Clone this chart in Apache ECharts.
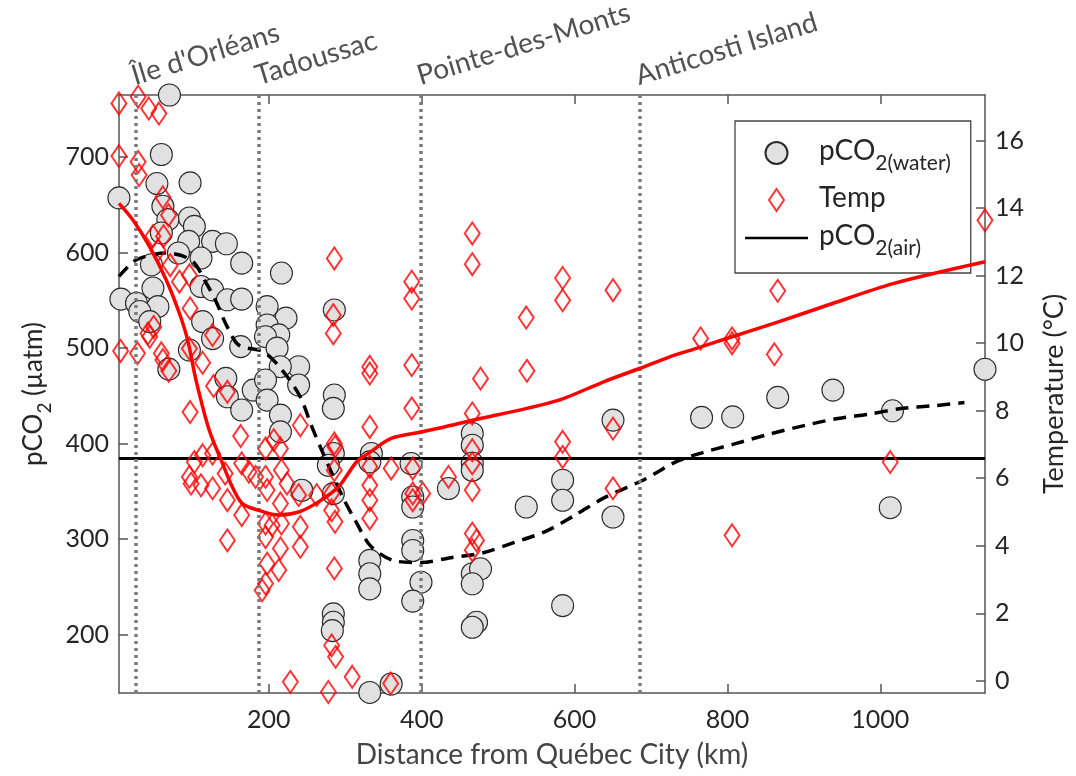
<!DOCTYPE html>
<html>
<head>
<meta charset="utf-8">
<script src="https://cdn.jsdelivr.net/npm/echarts@6/dist/echarts.min.js"></script>
<style>
html,body{margin:0;padding:0;background:#fff;}
#chart{width:1076px;height:776px;}
</style>
</head>
<body>
<div id="chart"></div>
<script>
// ---- axis ranges & ticks ----
const X_MIN = 4, X_MAX = 1137;
const P_MIN = 139, P_MAX = 765;
const T_MIN = -0.36, T_MAX = 17.35;
const xTicks = [200, 400, 600, 800, 1000];
const pco2Ticks = [200, 300, 400, 500, 600, 700];
const tempTicks = [0, 2, 4, 6, 8, 10, 12, 14, 16];

// ---- stations ----
const stationNames = ["Île d'Orléans", "Tadoussac", "Pointe-des-Monts", "Anticosti Island"];
const stationKm = [25.6, 187, 399, 685];

// ---- pCO2 (water) observations ----
const waterKm = [70,59.4,53.6,97,3.9,61.4,96.1,102.6,67.9,59.4,95.2,126.4,144.5,111.3,164.5,46.4,81.8,216.5,48.4,6.5,54.9,111.3,126.4,145.8,164.5,26.9,31.2,44.2,113.4,197.8,222.5,197.8,285.7,
  96.1,69.2,126.4,163.2,143.8,145.8,164.5,179.6,
  213,195.7,210.8,239,215,195.7,239,197.8,215.2,215.2,285.7,284.4,284.4,277.9,284.4,243.2,334.2,332.1,386.1,388.3,388.3,388.3,388.3,399.1,388.3,332.1,332.1,332.1,284.4,284.4,283.1,332.1,360.1,
  435,466.2,466.2,466.2,466.2,466.2,477,466.2,471.8,466.2,536.8,584.4,584.4,584.4,650.3,650.3,766.2,806.9,865.8,938,1016,1013,1137];
const waterPco2 = [765,702.7,672.3,673,657.3,648.5,636.3,627.5,634.5,620.6,611.8,611.8,609.3,594.3,589,587.3,599.6,578.6,562.9,551.3,543.5,564.5,561,550.6,551.3,547,538.3,527.8,527.8,543.5,531.4,524.3,540,
  498,478,510,501.6,468.4,449.1,435.2,456.1,
  513.9,512,500,480.6,480.6,466.6,461.4,445.6,429.9,412.4,450.9,437,389.7,377.4,347.7,351.2,389.7,380.9,379.2,344.2,333.7,298.7,288.2,255,235.2,277.8,263.8,248,221.8,213,204.3,139.6,148.4,
  353,410.7,398.4,379.5,372.2,263.8,269,253.3,213,207.8,333.7,361.7,340.7,230.5,424.7,323.2,427.5,428.1,448.5,456.1,434.4,333,477.9];

// ---- Temperature observations ----
const tempKm = [3.9,29,42.9,56.2,3.9,29,30.3,61.4,68.8,48.4,62.3,54.9,71,83.1,96.1,97,49.4,41.9,126.4,285.7,284.4,284.4,
  6.1,28.2,44.2,59.4,61.4,69.2,96.1,113.4,127.7,145.8,97,163.2,102.6,113.4,126.4,96.1,98.3,111.3,126.4,142.9,145.8,164.5,174,182.7,164.5,145.8,
  195.7,215.2,206.5,195.7,197.8,216.5,223.8,215.2,239,241.2,195.7,204.3,216.5,195.7,241.2,241.2,215.2,197.8,213,195.7,191.3,262.7,
  285.7,286.6,285.7,282.2,286.6,285.7,282.2,287.4,228.2,277.9,309.1,282.2,
  332.1,332.1,387,387,387,387,332.1,332.1,360.1,388.3,332.1,332.1,332.1,388.3,401.3,388.3,359.4,
  466.2,466.2,477,466.2,466.2,466.2,466.2,435.1,466.2,471.8,466.2,536.8,537.7,584.4,584.4,584.4,584.4,650.3,650.3,650.3,764.9,806.1,806.1,865.8,861.4,806.1,1013,1137];
const tempVal = [17.1,17.3,16.95,16.8,15.54,15.37,14.98,14.32,13.79,13.17,13.17,12.75,12.31,11.82,12.01,11.03,10.48,10.29,10.24,12.51,10.83,10.29,
  9.77,9.7,10.19,9.7,9.5,9.18,9.84,9.42,8.73,8.56,7.96,7.25,6.48,6.68,6.73,6.04,5.84,5.79,5.7,6.14,5.35,6.44,6.19,6.04,4.91,4.16,
  6.88,6.88,7.13,6.04,5.65,6.24,5.84,5.25,5.5,7.57,4.66,4.61,4.66,4.26,4.56,3.97,3.92,3.47,3.28,2.88,2.68,5.5,
  7.03,6.93,6.24,5.05,4.71,3.33,1.05,0.71,-0.03,-0.33,0.12,5.55,
  9.3,9.1,11.82,11.32,9.35,8.07,7.52,6.34,6.29,6.29,5.79,5.35,4.81,5.55,5.55,5.35,-0.08,
  13.25,12.34,8.95,7.92,6.83,6.44,5.65,6.04,4.36,4.16,3.87,10.76,9.18,11.93,11.27,7.08,6.63,11.57,7.47,5.7,10.14,10.14,10.0,11.55,9.67,4.31,6.48,13.64];

// ---- smoothed fits ----
const tempFitKm = [3.9,22.5,44.2,65.8,83.1,93.9,104.8,122.1,139.4,152.3,165.3,187,213,239,265,290.9,314.7,329.9,360.1,399.1,429.5,470.5,537.7,585.3,637.3,684.8,723.8,758.4,806.1,866.6,931.6,1018,1137.3];
const tempFitVal = [14.14,13.64,12.85,11.87,10.88,10.09,8.9,7.42,6.44,5.74,5.25,5.05,4.91,5.0,5.3,5.74,6.48,6.73,7.18,7.37,7.52,7.74,8.07,8.36,8.85,9.25,9.59,9.84,10.19,10.63,11.13,11.77,12.41];
const pco2FitKm = [3.9,26.9,65.8,99.1,118.6,129.9,145.8,161,193.5,219.5,241.2,255.2,270.1,297.4,313.6,333.1,364.5,399.1,438.1,479.2,521.4,562.3,600.4,640.3,692.2,732.5,769.2,808.2,854.8,902.6,944.5,985.7,1024.7,1072.3,1110.1];
const pco2FitVal = [575,592.5,599.6,591.8,567.4,550.6,522,503,496,475,449,420,391.4,343,319,293,277.3,275.6,280.6,285.6,296.6,308.2,325,344,362.8,381,391,399.5,410,419.4,426.4,431,436.5,439.9,443];

// ---- atmospheric pCO2 ----
const AIR_PCO2 = 384.5;

const FONT = 'Lato';
const TXT = '#262626';
const AX = '#555555';

const chart = echarts.init(document.getElementById('chart'), null, {renderer: 'canvas'});

const zip = (a, b) => a.map((v, i) => [v, b[i]]);
const plain = v => String(v);

const axisCommon = {
  type: 'value',
  splitLine: {show: false},
  axisLine: {show: true, onZero: false, lineStyle: {color: AX, width: 1.5}},
};

const legendRich = {
  m: {fontSize: 28, fontFamily: FONT, color: TXT, verticalAlign: 'top', lineHeight: 32},
  s: {fontSize: 21, fontFamily: FONT, color: TXT, verticalAlign: 'top', lineHeight: 24, padding: [16, 0, 0, 0]}
};

chart.setOption({
  animation: false,
  backgroundColor: '#ffffff',
  grid: {left: 119, right: 84, top: 95, bottom: 83},
  xAxis: [
    Object.assign({}, axisCommon, {
      min: X_MIN, max: X_MAX, position: 'bottom',
      axisTick: {show: true, inside: true, length: 9, customValues: xTicks, lineStyle: {color: AX, width: 1.5}},
      axisLabel: {customValues: xTicks, formatter: plain, fontSize: 25, fontFamily: FONT, color: TXT, margin: 14},
      name: 'Distance from Québec City (km)', nameLocation: 'middle', nameGap: 48,
      nameTextStyle: {fontSize: 28, fontFamily: FONT, color: '#444'}
    }),
    Object.assign({}, axisCommon, {
      min: X_MIN, max: X_MAX, position: 'top',
      axisTick: {show: true, inside: true, length: 9, customValues: xTicks, lineStyle: {color: AX, width: 1.5}},
      axisLabel: {show: false}
    })
  ],
  yAxis: [
    Object.assign({}, axisCommon, {
      min: P_MIN, max: P_MAX, position: 'left',
      axisTick: {show: true, inside: true, length: 9, customValues: pco2Ticks, lineStyle: {color: AX, width: 1.5}},
      axisLabel: {customValues: pco2Ticks, formatter: plain, fontSize: 25, fontFamily: FONT, color: TXT, margin: 10},
      name: '{m|pCO}{s|2}{m| (µatm)}', nameLocation: 'middle', nameRotate: 90, nameGap: 64,
      nameTextStyle: {rich: {
        m: {fontSize: 26, fontFamily: FONT, color: TXT, verticalAlign: 'top', lineHeight: 30},
        s: {fontSize: 19, fontFamily: FONT, color: TXT, verticalAlign: 'top', lineHeight: 22, padding: [15, 0, 0, 0]}
      }}
    }),
    Object.assign({}, axisCommon, {
      min: T_MIN, max: T_MAX, position: 'right',
      axisTick: {show: true, inside: true, length: 9, customValues: tempTicks, lineStyle: {color: AX, width: 1.5}},
      axisLabel: {customValues: tempTicks, formatter: plain, fontSize: 25, fontFamily: FONT, color: TXT, margin: 10},
      name: 'Temperature (°C)', nameLocation: 'middle', nameRotate: 90, nameGap: 56,
      nameTextStyle: {fontSize: 27, fontFamily: FONT, color: TXT, verticalAlign: 'top'}
    })
  ],
  legend: {
    orient: 'vertical', left: 735, top: 121,
    backgroundColor: '#ffffff',
    borderColor: '#444', borderWidth: 1.3,
    padding: [16, 20, 14, 10],
    itemWidth: 63, itemHeight: 22, itemGap: 10,
    lineStyle: {width: 4.5},
    data: [
      {name: 'pCO2(water)', icon: 'circle'},
      {name: 'Temp', icon: 'path://M0,-1L0.68,0L0,1L-0.68,0Z'},
      {name: 'pCO2(air)', icon: 'path://M0,0L1,0L1,0.04L0,0.04Z'}
    ],
    formatter: function (n) {
      if (n === 'pCO2(water)') return '{m|pCO}{s|2(water)}';
      if (n === 'pCO2(air)') return '{m|pCO}{s|2(air)}';
      return '{m|Temp}';
    },
    textStyle: {rich: legendRich, padding: [0, 0, 0, 6]},
    selectedMode: false
  },
  series: [
    {
      name: 'stations', type: 'scatter', xAxisIndex: 0, yAxisIndex: 0, z: 1,
      symbolSize: 0, silent: true, clip: false,
      data: stationKm.map(k => [k, P_MAX]),
      label: {
        show: true, position: [1, -5], align: 'left', verticalAlign: 'bottom', rotate: 17,
        formatter: p => stationNames[p.dataIndex],
        fontSize: 28, fontFamily: FONT, color: TXT
      },
      markLine: {
        silent: true, symbol: 'none', label: {show: false},
        lineStyle: {color: '#7b7b7b', type: [3, 4], width: 3.5},
        data: stationKm.map(k => ({xAxis: k}))
      }
    },
    {
      name: 'pCO2(water)', type: 'scatter', xAxisIndex: 0, yAxisIndex: 0, z: 2, clip: false,
      symbol: 'circle', symbolSize: 22,
      itemStyle: {color: '#e1e1e1', borderColor: '#2a2a2a', borderWidth: 1.1, opacity: 1},
      data: zip(waterKm, waterPco2)
    },
    {
      name: 'pCO2 fit', type: 'line', xAxisIndex: 0, yAxisIndex: 0, z: 3,
      symbol: 'none', smooth: 0.3,
      lineStyle: {color: '#000', width: 3.5, type: [13, 8]},
      data: zip(pco2FitKm, pco2FitVal)
    },
    {
      name: 'pCO2(air)', type: 'line', xAxisIndex: 0, yAxisIndex: 0, z: 3,
      symbol: 'none',
      lineStyle: {color: '#000', width: 3.2},
      itemStyle: {color: '#000'},
      data: [[X_MIN, AIR_PCO2], [X_MAX, AIR_PCO2]]
    },
    {
      name: 'Temp', type: 'scatter', xAxisIndex: 0, yAxisIndex: 1, z: 4, clip: false,
      symbol: 'path://M0,-1L0.68,0L0,1L-0.68,0Z', symbolSize: [15, 22], symbolKeepAspect: false,
      itemStyle: {color: 'rgba(255,255,255,0)', borderColor: '#ff0000', borderWidth: 2},
      data: zip(tempKm, tempVal)
    },
    {
      name: 'Temp fit', type: 'line', xAxisIndex: 0, yAxisIndex: 1, z: 5,
      symbol: 'none', smooth: 0.3,
      lineStyle: {color: '#ff0000', width: 3.5},
      data: zip(tempFitKm, tempFitVal)
    }
  ]
});
</script>
</body>
</html>
